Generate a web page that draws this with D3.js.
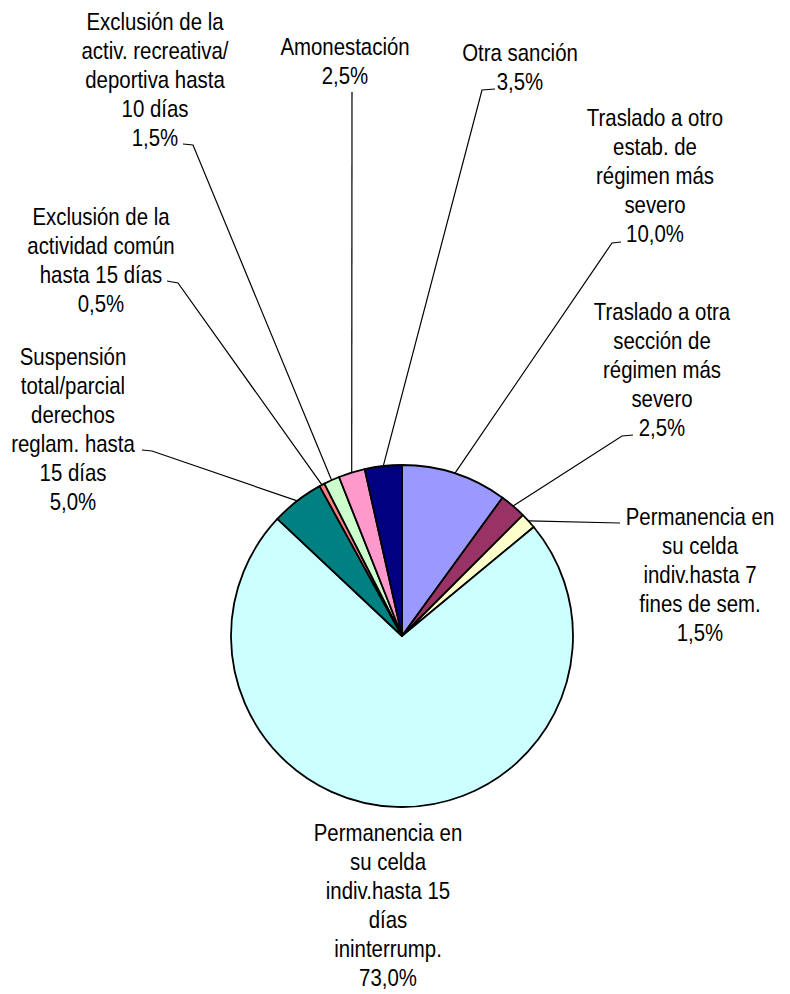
<!DOCTYPE html>
<html>
<head>
<meta charset="utf-8">
<script src="https://cdn.jsdelivr.net/npm/d3@7"></script>
<style>
  body { margin: 0; background: #fff; }
  svg text { font-family: "Liberation Sans", Arial, sans-serif; font-size: 24px; fill: #000; }
</style>
</head>
<body>
<svg id="chart"></svg>
<script>
// data, clockwise from 12 o'clock
var categories = [
  "Traslado a otro\nestab. de\nrégimen más\nsevero",
  "Traslado a otra\nsección de\nrégimen más\nsevero",
  "Permanencia en\nsu celda\nindiv.hasta 7\nfines de sem.",
  "Permanencia en\nsu celda\nindiv.hasta 15\ndías\nininterrump.",
  "Suspensión\ntotal/parcial\nderechos\nreglam. hasta\n15 días",
  "Exclusión de la\nactividad común\nhasta 15 días",
  "Exclusión de la\nactiv. recreativa/\ndeportiva hasta\n10 días",
  "Amonestación",
  "Otra sanción"
];
var values = [10.0, 2.5, 1.5, 73.0, 5.0, 0.5, 1.5, 2.5, 3.5];
var colors = ["#9999FF", "#993366", "#FFFFCC", "#CCFFFF", "#008080", "#FF8080", "#CCFFCC", "#FF99CC", "#000080"];

// label layout: text centre x, first baseline, leader stub and elbow (null = no leader)
var labelLayout = [
  {cx: 655, y: 126, stub: [621, 242], elbow: [612, 243]},
  {cx: 662, y: 320, stub: [633, 435], elbow: [622, 436]},
  {cx: 700, y: 525, stub: [620, 523], elbow: [620, 523]},
  {cx: 388, y: 841, stub: null, elbow: null},
  {cx: 73,  y: 365, stub: [142, 450], elbow: [152, 451]},
  {cx: 101, y: 225, stub: [167, 281], elbow: [178, 283]},
  {cx: 155, y: 30,  stub: [183, 144], elbow: [193, 145]},
  {cx: 345, y: 55,  stub: [352, 92],  elbow: [352, 92]},
  {cx: 520, y: 61,  stub: [495, 89],  elbow: [482, 90]}
];

var width = 790, height = 994,
  cx = 402, cy = 636, radius = 171, lineH = 29, squeeze = 0.85,
  svg = d3.select("#chart").attr("width", width).attr("height", height),
  g = svg.append("g").attr("transform", "translate(" + cx + "," + cy + ")");

var fmt = function(v) { return d3.format(".1f")(v).replace(".", ",") + "%"; };

var pie = d3.pie().sort(null).value(function(d) { return d; }),
  arcs = pie(values),
  arc = d3.arc().innerRadius(0).outerRadius(radius);

g.selectAll("path.slice")
  .data(arcs)
  .enter().append("path")
    .attr("class", "slice")
    .attr("d", arc)
    .attr("fill", function(d, i) { return colors[i]; })
    .attr("stroke", "#000")
    .attr("stroke-width", 1.8)
    .attr("stroke-linejoin", "round");

// leader lines
arcs.forEach(function(a, i) {
  var L = labelLayout[i];
  if (!L.stub) return;
  var mid = (a.startAngle + a.endAngle) / 2,
    px = cx + radius * Math.sin(mid),
    py = cy - radius * Math.cos(mid);
  svg.append("polyline")
    .attr("points", [L.stub, L.elbow, [px, py]].map(function(p) { return p.join(","); }).join(" "))
    .attr("fill", "none")
    .attr("stroke", "#000")
    .attr("stroke-width", 1.2);
});

// labels (narrowed font look)
categories.forEach(function(c, i) {
  var L = labelLayout[i],
    lines = c.split("\n").concat([fmt(values[i])]);
  var t = svg.append("text")
    .attr("text-anchor", "middle")
    .attr("transform", "translate(" + L.cx + ",0) scale(" + squeeze + ",1)");
  lines.forEach(function(s, k) {
    t.append("tspan").attr("x", 0).attr("y", L.y + k * lineH).text(s);
  });
});
</script>
</body>
</html>
